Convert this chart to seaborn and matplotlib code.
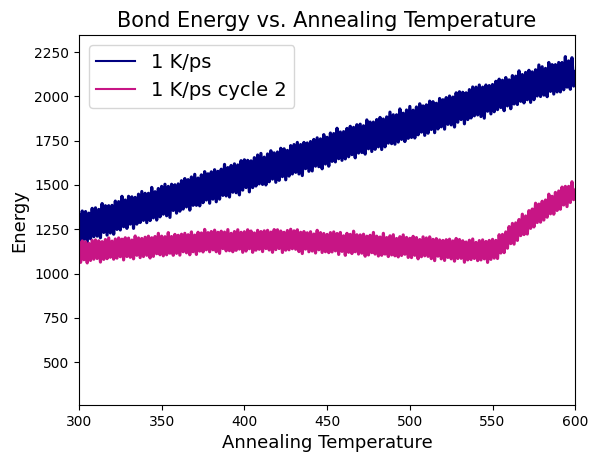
import numpy as np
import pandas as pd
import matplotlib
matplotlib.use("Agg")
import matplotlib.pyplot as plt
import seaborn as sns

temperature = list(range(300, 601))

energy_1kps = [
    1332, 1172, 1353, 1193, 1350, 1175, 1341, 1196, 1368, 1208,
    1371, 1211, 1362, 1202, 1395, 1232, 1383, 1217, 1383, 1229,
    1385, 1222, 1409, 1249, 1406, 1246, 1436, 1264, 1415, 1255,
    1436, 1279, 1433, 1255, 1430, 1279, 1448, 1288, 1463, 1300,
    1453, 1287, 1453, 1299, 1486, 1314, 1462, 1302, 1480, 1320,
    1492, 1335, 1504, 1326, 1492, 1317, 1504, 1356, 1501, 1341,
    1506, 1352, 1524, 1364, 1536, 1376, 1530, 1358, 1545, 1385,
    1560, 1385, 1539, 1382, 1557, 1400, 1575, 1415, 1563, 1397,
    1574, 1420, 1586, 1405, 1577, 1420, 1589, 1441, 1616, 1438,
    1598, 1432, 1610, 1459, 1619, 1456, 1613, 1444, 1637, 1471,
    1642, 1485, 1639, 1461, 1636, 1485, 1654, 1494, 1669, 1506,
    1678, 1503, 1657, 1500, 1675, 1518, 1693, 1533, 1681, 1515,
    1686, 1526, 1707, 1547, 1704, 1529, 1695, 1550, 1722, 1562,
    1728, 1571, 1740, 1562, 1728, 1553, 1740, 1592, 1737, 1577,
    1745, 1579, 1757, 1606, 1766, 1603, 1760, 1591, 1784, 1618,
    1769, 1606, 1793, 1633, 1790, 1630, 1820, 1648, 1799, 1639,
    1801, 1647, 1819, 1659, 1831, 1671, 1825, 1653, 1840, 1680,
    1843, 1683, 1834, 1674, 1867, 1704, 1855, 1689, 1855, 1701,
    1869, 1715, 1881, 1700, 1872, 1715, 1884, 1736, 1911, 1733,
    1896, 1730, 1896, 1742, 1929, 1757, 1905, 1745, 1923, 1763,
    1943, 1768, 1922, 1765, 1940, 1783, 1958, 1798, 1946, 1780,
    1952, 1792, 1973, 1813, 1970, 1795, 1961, 1816, 1988, 1828,
    1981, 1815, 1993, 1842, 2002, 1839, 1996, 1827, 2020, 1854,
    2026, 1869, 2023, 1845, 2020, 1869, 2038, 1878, 2053, 1890,
    2052, 1895, 2064, 1886, 2052, 1877, 2064, 1916, 2061, 1901,
    2067, 1913, 2085, 1925, 2097, 1937, 2091, 1919, 2106, 1946,
    2093, 1930, 2117, 1957, 2114, 1954, 2144, 1972, 2123, 1963,
    2135, 1981, 2147, 1966, 2138, 1981, 2150, 2002, 2177, 1999,
    2167, 2007, 2158, 1998, 2191, 2028, 2179, 2013, 2179, 2025,
    2191, 2025, 2191, 2037, 2224, 2052, 2200, 2040, 2218, 2058,
    2140,
]

energy_1kps_cycle2 = [
    1171, 1063, 1184, 1078, 1179, 1060, 1170, 1074, 1187, 1081,
    1190, 1085, 1185, 1065, 1180, 1080, 1192, 1084, 1201, 1092,
    1183, 1081, 1195, 1087, 1201, 1095, 1194, 1077, 1202, 1096,
    1200, 1092, 1189, 1083, 1212, 1103, 1201, 1090, 1198, 1096,
    1205, 1103, 1211, 1088, 1202, 1097, 1209, 1112, 1227, 1106,
    1211, 1100, 1208, 1106, 1231, 1115, 1209, 1103, 1221, 1114,
    1216, 1104, 1222, 1123, 1227, 1117, 1219, 1106, 1235, 1123,
    1217, 1108, 1233, 1127, 1229, 1122, 1249, 1134, 1231, 1123,
    1237, 1134, 1245, 1123, 1233, 1114, 1239, 1141, 1234, 1128,
    1248, 1129, 1227, 1123, 1237, 1131, 1247, 1138, 1233, 1120,
    1236, 1127, 1247, 1140, 1240, 1120, 1229, 1132, 1244, 1137,
    1237, 1124, 1241, 1141, 1244, 1133, 1234, 1120, 1248, 1135,
    1247, 1141, 1240, 1119, 1233, 1132, 1243, 1134, 1250, 1140,
    1241, 1137, 1247, 1124, 1233, 1113, 1237, 1138, 1230, 1123,
    1236, 1127, 1223, 1116, 1244, 1134, 1231, 1119, 1226, 1123,
    1221, 1118, 1231, 1122, 1235, 1128, 1226, 1108, 1232, 1125,
    1213, 1103, 1227, 1120, 1221, 1113, 1239, 1123, 1219, 1110,
    1218, 1115, 1222, 1098, 1211, 1105, 1216, 1118, 1232, 1110,
    1211, 1099, 1206, 1103, 1227, 1110, 1203, 1096, 1213, 1105,
    1219, 1100, 1198, 1094, 1208, 1102, 1218, 1109, 1204, 1091,
    1199, 1090, 1210, 1103, 1203, 1083, 1192, 1095, 1207, 1100,
    1201, 1097, 1207, 1084, 1193, 1073, 1197, 1098, 1190, 1083,
    1187, 1074, 1191, 1091, 1194, 1083, 1184, 1070, 1198, 1085,
    1192, 1086, 1185, 1064, 1178, 1077, 1188, 1079, 1195, 1085,
    1176, 1073, 1186, 1077, 1190, 1083, 1181, 1063, 1187, 1080,
    1193, 1087, 1187, 1085, 1219, 1116, 1221, 1118, 1235, 1143,
    1265, 1169, 1283, 1166, 1286, 1187, 1305, 1214, 1335, 1220,
    1325, 1223, 1355, 1255, 1364, 1263, 1397, 1288, 1392, 1290,
    1408, 1302, 1415, 1318, 1448, 1337, 1436, 1335, 1458, 1356,
    1466, 1363, 1488, 1387, 1492, 1378, 1492, 1401, 1518, 1417,
    1470,
]

series_labels = ["1 K/ps", "1 K/ps cycle 2"]
series_colors = ["navy", "mediumvioletred"]

df = pd.concat([
    pd.DataFrame({"T": temperature, "E": energy_1kps, "run": series_labels[0]}),
    pd.DataFrame({"T": temperature, "E": energy_1kps_cycle2, "run": series_labels[1]}),
])

fig = plt.figure(figsize=(5.98, 4.61), dpi=100)
ax = fig.add_axes([0.132, 0.121, 0.830, 0.803])

sns.lineplot(data=df, x="T", y="E", hue="run", palette=series_colors,
             estimator=None, sort=False, linewidth=2.3, ax=ax)

ax.set_xlim(300, 600)
ax.set_ylim(257, 2346)
ax.set_title("Bond Energy vs. Annealing Temperature", fontsize=15)
ax.set_xlabel("Annealing Temperature", fontsize=13)
ax.set_ylabel("Energy", fontsize=13)
leg = ax.legend(title=None, fontsize=14, loc="upper left")
for h in leg.get_lines():
    h.set_linewidth(1.5)

fig.savefig("out.png", dpi=100)
